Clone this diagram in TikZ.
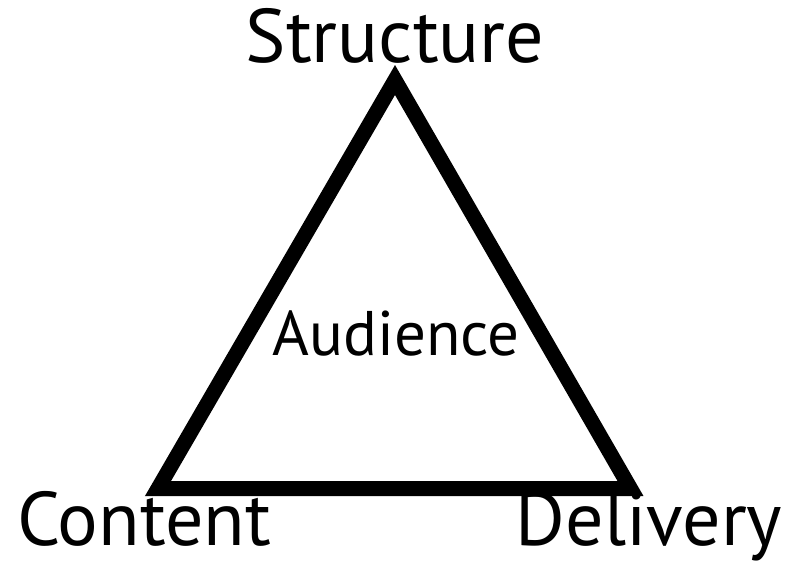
\documentclass[tikz,border=0pt]{standalone}
\usepackage{fontspec}
\setmainfont{PT Sans}
\begin{document}
\begin{tikzpicture}[x=1pt,y=-1pt,
    corner/.style={font=\fontsize{76}{82}\selectfont,anchor=base,inner sep=0pt},
    centre/.style={font=\fontsize{63}{68}\selectfont,anchor=base,inner sep=0pt}]

        % 页面边界
        \useasboundingbox (0,0) rectangle (785,563);

        % 三角形的顶点
        \coordinate (top) at (395, 80);
        \coordinate (left) at (158, 488.5);
        \coordinate (right) at (630.5, 488.5);

        % 绘制三角形
        \draw[line width=15pt, line join=miter] (top) -- (right) -- (left) -- cycle;

        % 添加标签
        \node[corner] (structure) at (395, 62) {Structure};
        \node[corner] (content) at (144, 545) {Content};
        \node[corner] (delivery) at (649, 545) {Delivery};
        \node[centre] (audience) at (396, 355) {Audience};

    \end{tikzpicture}
\end{document}
